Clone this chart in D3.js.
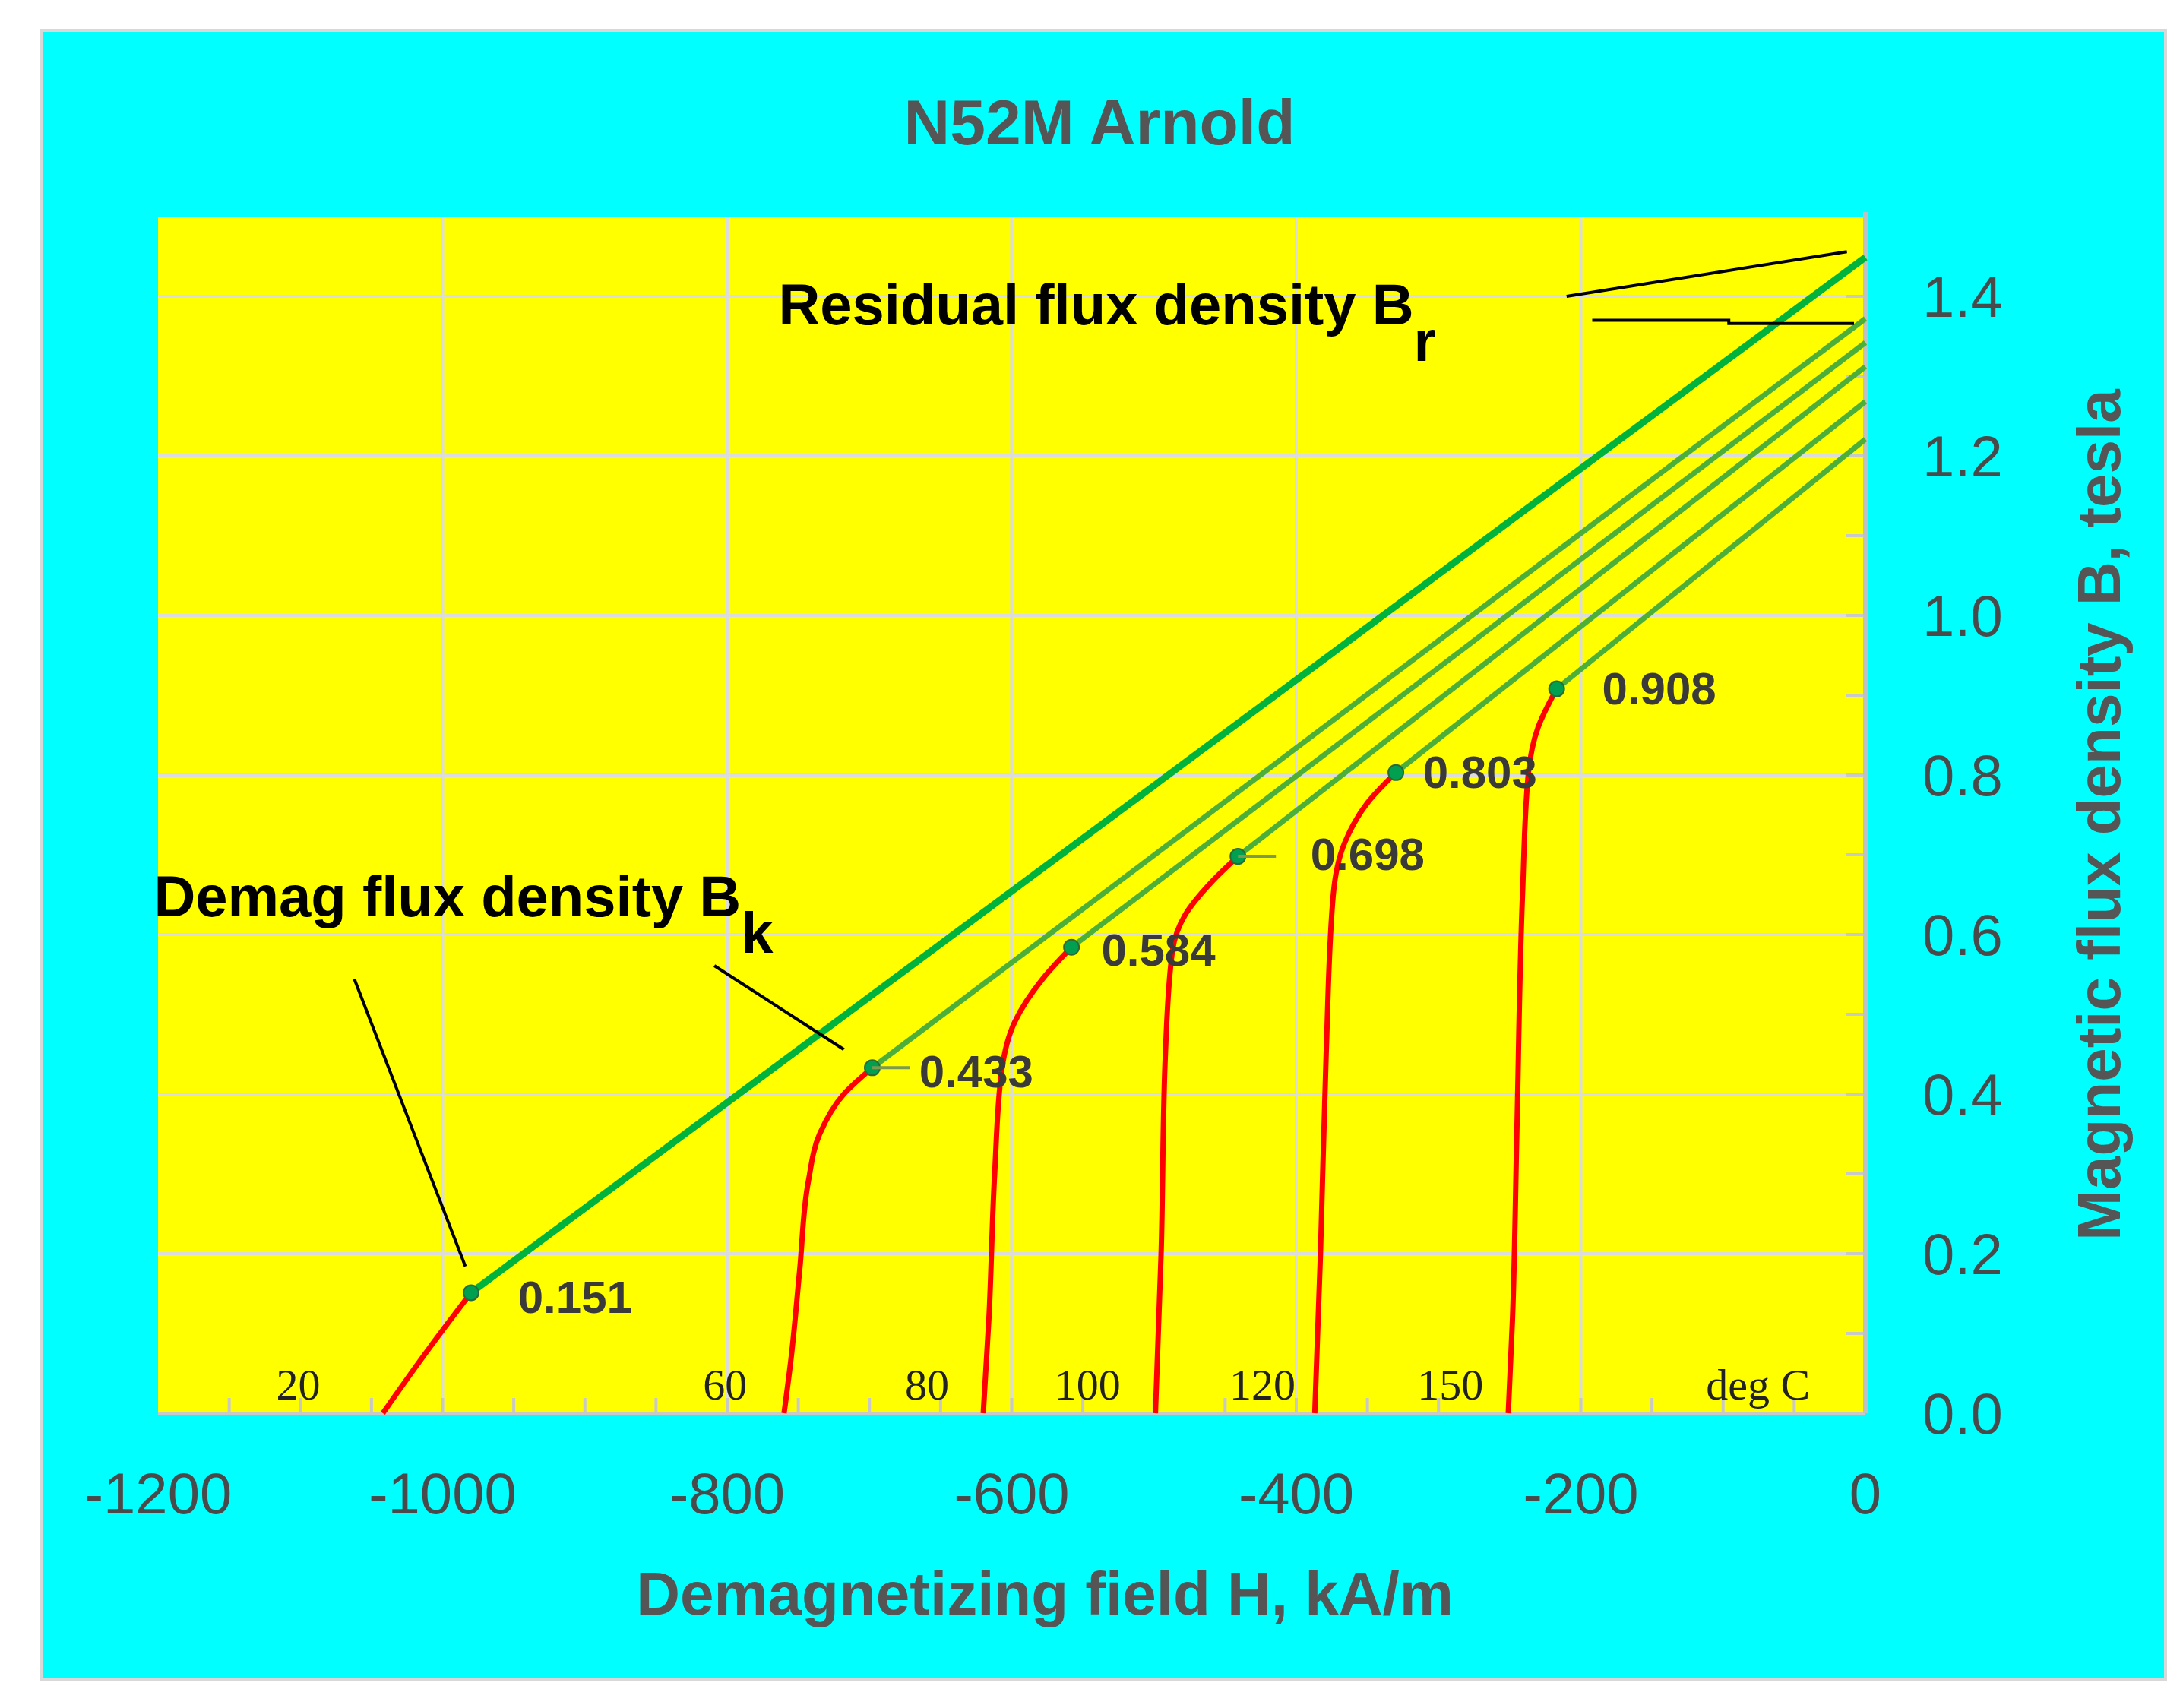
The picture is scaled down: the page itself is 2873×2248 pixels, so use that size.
<!DOCTYPE html>
<html>
<head>
<meta charset="utf-8">
<script src="https://cdn.jsdelivr.net/npm/d3@7"></script>
<style>
  body { margin: 0; background: #fff; }
  svg { display: block; }
</style>
</head>
<body>
<script>
// temperatures (deg C) of each demag curve
var temps = [20, 60, 80, 100, 120, 150];
// residual flux density Br (tesla) at H = 0
var br = [1.449, 1.372, 1.342, 1.312, 1.268, 1.221];
// knee point [H kA/m, B tesla]
var knees = [[-980, 0.151], [-698, 0.433], [-558, 0.584], [-441, 0.698], [-330, 0.803], [-217, 0.908]];
// red part below the knee, [H, B]
var redParts = [
  [[-980, 0.151], [-1010, 0.08], [-1042, 0]],
  [[-698, 0.433], [-718, 0.40], [-735, 0.35], [-743, 0.29], [-749, 0.18], [-755, 0.07], [-760, 0]],
  [[-558, 0.584], [-578, 0.545], [-598, 0.49], [-607, 0.43], [-612, 0.30], [-616, 0.12], [-620, 0]],
  [[-441, 0.698], [-460, 0.665], [-478, 0.625], [-487, 0.58], [-492, 0.45], [-495, 0.20], [-499, 0]],
  [[-330, 0.803], [-350, 0.765], [-366, 0.715], [-374, 0.65], [-379, 0.45], [-383, 0.20], [-387, 0]],
  [[-217, 0.908], [-230, 0.86], [-237, 0.80], [-241, 0.65], [-245, 0.35], [-248, 0.12], [-251, 0]]
];
var kneeLabels = ["0.151", "0.433", "0.584", "0.698", "0.803", "0.908"];
var kneeLabelPos = [[-947, 0.126], [-665, 0.409], [-537, 0.561], [-390, 0.681], [-311, 0.784], [-185, 0.889]];
var tempLabelX = [-1117, -817, -675, -570, -447, -315];
var xTicks = [-1200, -1000, -800, -600, -400, -200, 0];
var yTicks = [0, 0.2, 0.4, 0.6, 0.8, 1.0, 1.2, 1.4];

var W = 2873, H = 2248;
var pLeft = 208, pRight = 2455, pTop = 285, pBottom = 1860;

var svg = d3.select("body").append("svg").attr("width", W).attr("height", H);

svg.append("rect").attr("x", 55).attr("y", 40).attr("width", 2795).attr("height", 2170)
  .attr("fill", "#00ffff").attr("stroke", "#d8d8d8").attr("stroke-width", 4);

var x = d3.scaleLinear().domain([-1200, 0]).range([pLeft, pRight]);
var y = d3.scaleLinear().domain([0, 1.5]).range([pBottom, pTop]);

svg.append("rect").attr("x", pLeft).attr("y", pTop).attr("width", pRight - pLeft).attr("height", pBottom - pTop)
  .attr("fill", "#ffff00");

// grid
svg.append("g").selectAll("line").data(xTicks.slice(1, -1)).join("line")
  .attr("x1", d => x(d)).attr("x2", d => x(d)).attr("y1", pTop).attr("y2", pBottom)
  .attr("stroke", "#dcdcdc").attr("stroke-width", 4);
svg.append("g").selectAll("line").data(yTicks.slice(1)).join("line")
  .attr("x1", pLeft).attr("x2", pRight).attr("y1", d => y(d)).attr("y2", d => y(d))
  .attr("stroke", "#dcdcdc").attr("stroke-width", 4);

// minor ticks
svg.append("g").selectAll("line").data(d3.range(-1150, 0, 50)).join("line")
  .attr("x1", d => x(d)).attr("x2", d => x(d)).attr("y1", pBottom - 20).attr("y2", pBottom)
  .attr("stroke", "#c8c8c8").attr("stroke-width", 4);
svg.append("g").selectAll("line").data(d3.range(0.1, 1.5, 0.1)).join("line")
  .attr("x1", pRight - 26).attr("x2", pRight).attr("y1", d => y(d)).attr("y2", d => y(d))
  .attr("stroke", "#c8c8c8").attr("stroke-width", 4);

// axes frame
svg.append("line").attr("x1", pLeft).attr("x2", pRight).attr("y1", pBottom).attr("y2", pBottom)
  .attr("stroke", "#c8c8c8").attr("stroke-width", 4);
svg.append("line").attr("x1", pRight).attr("x2", pRight).attr("y1", pTop - 6).attr("y2", pBottom)
  .attr("stroke", "#c0c0c0").attr("stroke-width", 6);

var line = d3.line().x(d => x(d[0])).y(d => y(d[1]));
var curveLine = d3.line().x(d => x(d[0])).y(d => y(d[1])).curve(d3.curveMonotoneY);

// green recoil lines from knee to Br
temps.forEach(function (t, i) {
  var pts = [knees[i], [0, br[i]]];
  svg.append("path").attr("d", line(pts)).attr("fill", "none")
    .attr("stroke", i === 0 ? "#00b33c" : "#4caf3a").attr("stroke-width", i === 0 ? 9 : 7);
});
// red curves
redParts.forEach(function (p) {
  svg.append("path").attr("d", curveLine(p.slice().reverse())).attr("fill", "none")
    .attr("stroke", "#ff0000").attr("stroke-width", 7);
});

// knee dots
svg.append("g").selectAll("circle").data(knees).join("circle")
  .attr("cx", d => x(d[0])).attr("cy", d => y(d[1])).attr("r", 10)
  .attr("fill", "#00a050").attr("stroke", "#2a6a3a").attr("stroke-width", 2);
// small leaders for 0.433, 0.698
[1, 3].forEach(function (i) {
  svg.append("line").attr("x1", x(knees[i][0])).attr("x2", x(knees[i][0]) + 50)
    .attr("y1", y(knees[i][1])).attr("y2", y(knees[i][1]))
    .attr("stroke", "#7a9a50").attr("stroke-width", 4);
});
svg.append("g").selectAll("text").data(kneeLabels).join("text")
  .attr("x", (d, i) => x(kneeLabelPos[i][0])).attr("y", (d, i) => y(kneeLabelPos[i][1]))
  .attr("font-family", "Liberation Sans, Arial").attr("font-weight", "bold").attr("font-size", 60)
  .attr("fill", "#3a3a3a").text(d => d);

// temperature labels
svg.append("g").selectAll("text").data(temps).join("text")
  .attr("x", (d, i) => x(tempLabelX[i])).attr("y", y(0.0175))
  .attr("font-family", "Liberation Serif, Times New Roman").attr("font-size", 58)
  .attr("fill", "#222").text(d => d);
svg.append("text").attr("x", x(-112)).attr("y", y(0.0175))
  .attr("font-family", "Liberation Serif, Times New Roman").attr("font-size", 58)
  .attr("fill", "#222").text("deg C");

// annotations
var ann = svg.append("g").attr("font-family", "Liberation Sans, Arial").attr("font-weight", "bold").attr("fill", "#000");
var t1 = ann.append("text").attr("x", x(-764)).attr("y", y(1.365)).attr("font-size", 76);
t1.append("tspan").text("Residual flux density B");
t1.append("tspan").attr("dy", 48).text("r");
var t2 = ann.append("text").attr("x", x(-1203)).attr("y", y(0.623)).attr("font-size", 76);
t2.append("tspan").text("Demag flux density B");
t2.append("tspan").attr("dy", 48).text("k");

var leaders = [
  [[-210, 1.40], [-13, 1.456]],
  [[-192, 1.37], [-96, 1.37], [-96, 1.366], [-8, 1.366]],
  [[-1062, 0.544], [-984, 0.184]],
  [[-809, 0.561], [-718, 0.456]]
];
leaders.forEach(function (p) {
  svg.append("path").attr("d", line(p)).attr("fill", "none").attr("stroke", "#000").attr("stroke-width", 4);
});

// tick labels
var lab = svg.append("g").attr("font-family", "Liberation Sans, Arial").attr("font-size", 76).attr("fill", "#4a4a4a");
lab.selectAll(".xt").data(xTicks).join("text").attr("class", "xt")
  .attr("x", d => x(d)).attr("y", 1992).attr("text-anchor", "middle").text(d => d);
lab.selectAll(".yt").data(yTicks).join("text").attr("class", "yt")
  .attr("x", 2530).attr("y", d => y(d) + 27).text(d => d.toFixed(1));

// titles
svg.append("text").attr("x", 1447).attr("y", 190).attr("text-anchor", "middle")
  .attr("font-family", "Liberation Sans, Arial").attr("font-weight", "bold").attr("font-size", 84)
  .attr("fill", "#555").text("N52M Arnold");
svg.append("text").attr("x", 1375).attr("y", 2125).attr("text-anchor", "middle")
  .attr("font-family", "Liberation Sans, Arial").attr("font-weight", "bold").attr("font-size", 80)
  .attr("fill", "#555").text("Demagnetizing field  H, kA/m");
svg.append("text").attr("transform", "translate(2790," + y(0.75) + ") rotate(-90)").attr("text-anchor", "middle")
  .attr("font-family", "Liberation Sans, Arial").attr("font-weight", "bold").attr("font-size", 80)
  .attr("fill", "#555").text("Magnetic flux density B, tesla");
</script>
</body>
</html>
